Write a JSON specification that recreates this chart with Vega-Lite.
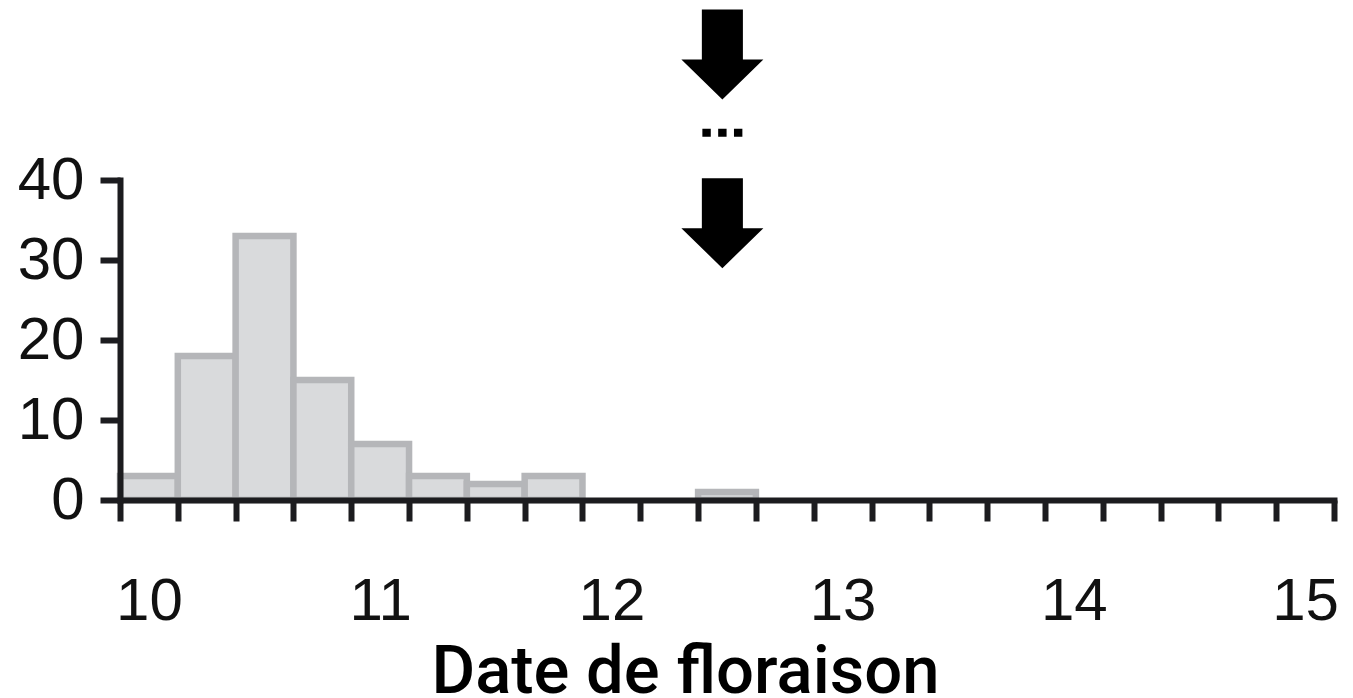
{
  "$schema": "https://vega.github.io/schema/vega-lite/v6.json",
  "autosize": {"type": "none"},
  "width": 1214,
  "height": 320,
  "padding": {"left": 120, "top": 180, "right": 19, "bottom": 198},
  "background": "#ffffff",
  "config": {"view": {"stroke": null}},
  "datasets": {
    "bars": [
      {"start": 9.875, "end": 10.125, "count": 3},
      {"start": 10.125, "end": 10.375, "count": 18},
      {"start": 10.375, "end": 10.625, "count": 33},
      {"start": 10.625, "end": 10.875, "count": 15},
      {"start": 10.875, "end": 11.125, "count": 7},
      {"start": 11.125, "end": 11.375, "count": 3},
      {"start": 11.375, "end": 11.625, "count": 2},
      {"start": 11.625, "end": 11.875, "count": 3},
      {"start": 12.375, "end": 12.625, "count": 1}
    ],
    "arrows": [
      {"x": 12.48, "y": 55.7},
      {"x": 12.48, "y": 34.6}
    ],
    "dots": [
      {"x": 12.48, "y": 45.9}
    ]
  },
  "layer": [
    {
      "data": {"name": "bars"},
      "mark": {"type": "rect", "fill": "#d9dadc", "stroke": "#b5b6b9", "strokeWidth": 6.5},
      "encoding": {
        "x": {
          "field": "start", "type": "quantitative",
          "scale": {"domain": [9.875, 15.125], "nice": false, "zero": false},
          "axis": {
            "title": "Date de floraison",
            "titleFont": "Roboto", "titleFontSize": 67, "titleFontWeight": 500, "titleColor": "#000000",
            "titleX": 565, "titleY": 192, "titleAlign": "center", "titleBaseline": "alphabetic", "titleAnchor": null,
            "values": [9.875, 10, 10.125, 10.375, 10.625, 10.875, 11, 11.125, 11.375, 11.625, 11.875, 12, 12.125, 12.375, 12.625, 12.875, 13, 13.125, 13.375, 13.625, 13.875, 14, 14.125, 14.375, 14.625, 14.875, 15, 15.125],
            "labelExpr": "datum.value % 1 === 0 ? format(datum.value, 'd') : ''",
            "tickOpacity": {"condition": {"test": "datum.value % 1 === 0", "value": 0}, "value": 1},
            "labelOverlap": false, "labelFlush": false,
            "labelFont": "Liberation Sans", "labelFontSize": 60, "labelColor": "#111111",
            "labelPadding": 51, "tickSize": 21, "tickWidth": 6, "tickColor": "#1c1c1f",
            "domainWidth": 6, "domainColor": "#1c1c1f", "domainCap": "square",
            "grid": false, "zindex": 1
          }
        },
        "x2": {"field": "end"},
        "y": {
          "field": "count", "type": "quantitative",
          "scale": {"domain": [0, 40], "nice": false},
          "axis": {
            "title": null,
            "values": [0, 10, 20, 30, 40],
            "labelFont": "Liberation Sans", "labelFontSize": 60, "labelColor": "#111111",
            "labelPadding": 16, "tickSize": 20, "tickWidth": 6, "tickColor": "#1c1c1f",
            "domainWidth": 6, "domainColor": "#1c1c1f", "domainCap": "square",
            "grid": false, "zindex": 1
          }
        },
        "y2": {"datum": 0}
      }
    },
    {
      "data": {"name": "arrows"},
      "mark": {
        "type": "point", "filled": true, "color": "#000000", "opacity": 1, "strokeWidth": 0, "size": 8100,
        "shape": "M -0.456 -1 L 0.456 -1 L 0.456 0.111 L 0.911 0.111 L 0 1 L -0.911 0.111 L -0.456 0.111 Z"
      },
      "encoding": {
        "x": {"field": "x", "type": "quantitative"},
        "y": {"field": "y", "type": "quantitative"}
      }
    },
    {
      "data": {"name": "dots"},
      "mark": {
        "type": "point", "filled": true, "color": "#000000", "opacity": 1, "strokeWidth": 0, "size": 1600,
        "shape": "M -1 -0.2 L -0.58 -0.2 L -0.58 0.2 L -1 0.2 Z M -0.21 -0.2 L 0.21 -0.2 L 0.21 0.2 L -0.21 0.2 Z M 0.58 -0.2 L 1 -0.2 L 1 0.2 L 0.58 0.2 Z"
      },
      "encoding": {
        "x": {"field": "x", "type": "quantitative"},
        "y": {"field": "y", "type": "quantitative"}
      }
    }
  ]
}
